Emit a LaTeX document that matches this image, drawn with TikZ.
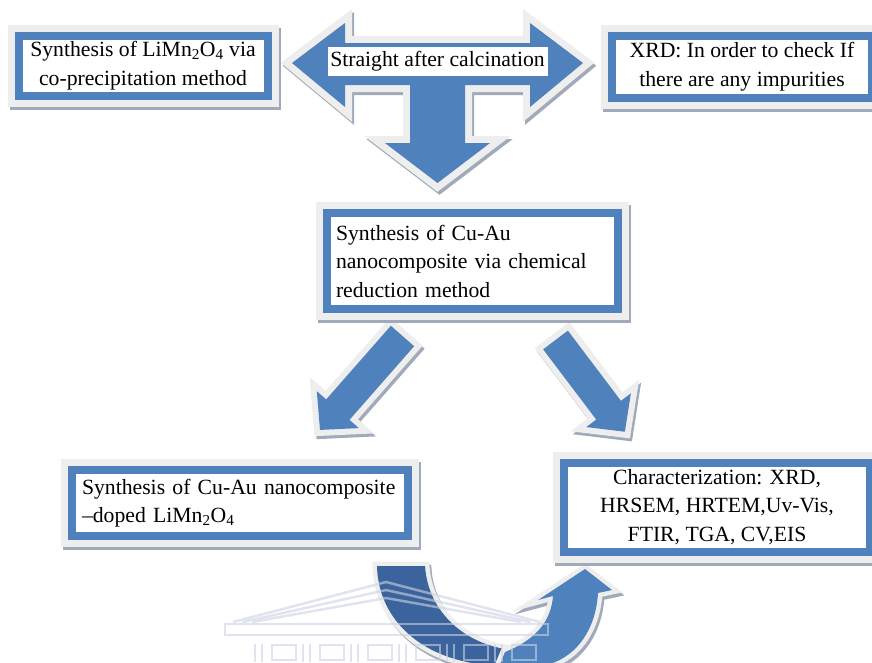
\documentclass[tikz,border=0pt]{standalone}
\usepackage{fontspec}
\setmainfont{Liberation Serif}
\usetikzlibrary{positioning}
\definecolor{BoxBlue}{RGB}{79,129,189}
\definecolor{DeepBlue}{RGB}{59,100,158}
\definecolor{RimGray}{RGB}{238,238,238}
\definecolor{ShadeGray}{RGB}{160,170,186}
\definecolor{MarkGray}{RGB}{205,210,226}

\tikzset{
  stepbox/.style={draw=BoxBlue, line width=8pt, fill=white, inner sep=0pt,
    font=\fontsize{21.7}{28.5}\selectfont,
    preaction={draw=ShadeGray, line width=22pt, transform canvas={shift={(2pt,-3pt)}}},
    preaction={draw=RimGray, line width=22pt}},
  leftbox/.style 2 args={stepbox, align=left, inner xsep=#1, text width=#2},
  tag/.style={fill=white, inner sep=0pt, minimum width=220pt, minimum height=29pt,
    font=\fontsize{21.7}{28.5}\selectfont},
  tshape/.style={insert path={(292,63) -- (345,23) -- (345,43) -- (530,43) -- (530,23)
    -- (583,63) -- (530,107) -- (530,85) -- (465,85) -- (465,143) -- (490,143)
    -- (437.5,183) -- (385,143) -- (410,143) -- (410,85) -- (345,85) -- (345,107) -- cycle}},
  slantarrow/.style n args={4}{shift={(#1,#2)}, rotate=#3,
    insert path={(0,15.5) -- ({#4-27},15.5) -- ({#4-27},28) -- (#4,0)
    -- ({#4-27},-28) -- ({#4-27},-15.5) -- (0,-15.5) -- cycle}},
  backband/.style={insert path={(377,566) -- (425,566)
    .. controls (428,612) and (465,645) .. (512,650) -- (505,664) -- (478,664)
    .. controls (415,655) and (378,615) .. (377,566) -- cycle}},
  frontband/.style={insert path={(505,652) .. controls (535,640) and (551,622) .. (553,596)
    -- (538,600) -- (585,569) -- (612,590) -- (598,593)
    .. controls (596,628) and (578,655) .. (550,664) -- (500,664) -- cycle}}
}
\newcommand{\blocklayers}[3][BoxBlue]{%
  \path[shift={(2,3)}, draw=ShadeGray, line width=#3, line join=miter, #2];
  \path[draw=RimGray, line width=#3, line join=miter, #2];
  \path[fill=#1, #2];}

\begin{document}
\begin{tikzpicture}[x=1pt, y=-1pt]
  \useasboundingbox (0,0) rectangle (872,662);
  % top arrow
  \blocklayers{tshape}{14pt}
  \node[tag] (calc) at (437.5,61.5) {Straight after calcination};
  % slanted arrows
  \blocklayers{slantarrow={402.5}{336}{-131.3}{125}}{12pt}
  \blocklayers{slantarrow={555.5}{340}{-52.9}{115}}{12pt}
  % curved arrow
  \blocklayers[DeepBlue]{backband}{9pt}
  \blocklayers{frontband}{9pt}
  % boxes
  \node[stepbox, minimum width=249pt, minimum height=60.5pt, align=center] (limn) at (143,65.75)
    {Synthesis of LiMn\textsubscript{2}O\textsubscript{4} via\\co-precipitation method};
  \node[stepbox, minimum width=260pt, minimum height=62pt, align=center] (xrd) at (742,66.5)
    {XRD: In order to check If\\there are any impurities};
  \node[leftbox={9pt}{272.5pt}, minimum height=96pt] (cuau) at (472.25,261)
    {Synthesis of Cu-Au\\nanocomposite via chemical\\reduction method};
  \node[leftbox={10pt}{315.5pt}, minimum height=66pt] (doped) at (239.75,503)
    {Synthesis of Cu-Au nanocomposite\\--doped LiMn\textsubscript{2}O\textsubscript{4}};
  \node[stepbox, minimum width=306pt, minimum height=89pt, align=center] (charac) at (717,507)
    {Characterization: XRD,\\HRSEM, HRTEM,Uv-Vis,\\FTIR, TGA, CV,EIS};
  % watermark
  \begin{scope}[draw=MarkGray, line width=2.5pt, opacity=0.6]
    \foreach \k in {0,8,16}
      \draw (233+\k*1.2,622) -- (386,582+\k) -- (540-\k*1.2,622);
    \draw (225,624) rectangle (548,635);
    \foreach \c in {0,...,5}{
      \draw (255+\c*48,644) -- (255+\c*48,662);
      \draw (262+\c*48,644) -- (262+\c*48,662);
      \draw (272+\c*48,645) rectangle (296+\c*48,660);
    }
  \end{scope}
\end{tikzpicture}
\end{document}
